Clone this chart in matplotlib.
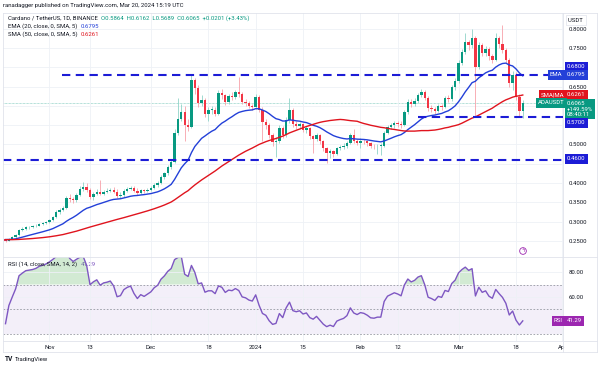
import matplotlib
matplotlib.use("Agg")
import matplotlib.pyplot as plt
import numpy as np
import pandas as pd

# ADA/USDT daily candles, Oct 19 2023 .. Mar 20 2024
closes = [0.250, 0.256, 0.260, 0.265, 0.278, 0.282, 0.286, 0.287, 0.288, 0.290,
          0.294, 0.296, 0.299, 0.304, 0.312, 0.325, 0.330, 0.335, 0.362, 0.358,
          0.356, 0.369, 0.385, 0.390, 0.383, 0.364, 0.372, 0.378, 0.372, 0.378,
          0.380, 0.383, 0.378, 0.366, 0.368, 0.380, 0.385, 0.388, 0.380, 0.374,
          0.381, 0.379, 0.383, 0.387, 0.395, 0.400, 0.415, 0.425, 0.442, 0.455,
          0.530, 0.566, 0.585, 0.550, 0.545, 0.667, 0.646, 0.607, 0.615, 0.580,
          0.590, 0.590, 0.580, 0.633, 0.628, 0.610, 0.625, 0.623, 0.636, 0.630,
          0.610, 0.607, 0.600, 0.597, 0.623, 0.590, 0.558, 0.550, 0.525, 0.507,
          0.510, 0.543, 0.525, 0.563, 0.590, 0.553, 0.548, 0.552, 0.538, 0.542,
          0.522, 0.515, 0.524, 0.508, 0.490, 0.478, 0.482, 0.476, 0.490, 0.494,
          0.497, 0.504, 0.525, 0.510, 0.505, 0.510, 0.508, 0.503, 0.496, 0.495,
          0.497, 0.497, 0.530, 0.545, 0.550, 0.555, 0.553, 0.550, 0.584, 0.610,
          0.605, 0.612, 0.628, 0.635, 0.620, 0.595, 0.592, 0.588, 0.600, 0.598,
          0.620, 0.618, 0.649, 0.665, 0.711, 0.740, 0.765, 0.758, 0.775, 0.700,
          0.757, 0.738, 0.748, 0.728, 0.720, 0.776, 0.760, 0.745, 0.720, 0.660,
          0.680, 0.623, 0.5864, 0.6065]
highs = [0.256, 0.258, 0.262, 0.268, 0.281, 0.287, 0.290, 0.290, 0.291, 0.293,
         0.297, 0.300, 0.302, 0.308, 0.316, 0.329, 0.335, 0.340, 0.367, 0.372,
         0.365, 0.374, 0.392, 0.402, 0.400, 0.388, 0.377, 0.385, 0.408, 0.383,
         0.386, 0.388, 0.389, 0.384, 0.377, 0.384, 0.390, 0.392, 0.392, 0.386,
         0.385, 0.384, 0.387, 0.392, 0.399, 0.405, 0.420, 0.430, 0.448, 0.462,
         0.540, 0.620, 0.606, 0.600, 0.565, 0.680, 0.672, 0.655, 0.628, 0.620,
         0.598, 0.600, 0.597, 0.640, 0.645, 0.632, 0.632, 0.635, 0.642, 0.675,
         0.636, 0.618, 0.612, 0.606, 0.630, 0.628, 0.596, 0.566, 0.556, 0.530,
         0.520, 0.550, 0.548, 0.570, 0.620, 0.594, 0.560, 0.558, 0.556, 0.548,
         0.545, 0.525, 0.530, 0.528, 0.512, 0.494, 0.488, 0.486, 0.494, 0.499,
         0.503, 0.510, 0.530, 0.540, 0.515, 0.516, 0.515, 0.512, 0.507, 0.501,
         0.502, 0.504, 0.535, 0.550, 0.556, 0.560, 0.562, 0.560, 0.590, 0.617,
         0.618, 0.620, 0.634, 0.645, 0.640, 0.625, 0.602, 0.598, 0.606, 0.605,
         0.626, 0.628, 0.655, 0.672, 0.718, 0.748, 0.790, 0.772, 0.800, 0.782,
         0.765, 0.762, 0.755, 0.752, 0.735, 0.790, 0.782, 0.810, 0.750, 0.725,
         0.690, 0.688, 0.630, 0.6162]
lows = [0.247, 0.249, 0.254, 0.258, 0.263, 0.275, 0.279, 0.282, 0.283, 0.285,
        0.288, 0.291, 0.293, 0.296, 0.301, 0.310, 0.321, 0.327, 0.333, 0.350,
        0.348, 0.352, 0.366, 0.380, 0.378, 0.358, 0.355, 0.368, 0.368, 0.368,
        0.374, 0.376, 0.375, 0.362, 0.362, 0.364, 0.377, 0.381, 0.376, 0.370,
        0.372, 0.374, 0.376, 0.380, 0.384, 0.391, 0.397, 0.410, 0.420, 0.437,
        0.452, 0.525, 0.560, 0.510, 0.535, 0.542, 0.630, 0.598, 0.600, 0.572,
        0.560, 0.578, 0.574, 0.576, 0.618, 0.602, 0.605, 0.614, 0.618, 0.624,
        0.604, 0.600, 0.594, 0.590, 0.592, 0.584, 0.510, 0.540, 0.518, 0.496,
        0.468, 0.505, 0.518, 0.520, 0.556, 0.545, 0.540, 0.540, 0.532, 0.530,
        0.515, 0.478, 0.508, 0.500, 0.484, 0.452, 0.466, 0.468, 0.472, 0.485,
        0.488, 0.492, 0.500, 0.505, 0.498, 0.490, 0.500, 0.497, 0.490, 0.488,
        0.476, 0.473, 0.494, 0.526, 0.540, 0.544, 0.546, 0.543, 0.547, 0.580,
        0.598, 0.600, 0.607, 0.622, 0.614, 0.588, 0.585, 0.580, 0.584, 0.590,
        0.594, 0.610, 0.612, 0.640, 0.660, 0.705, 0.735, 0.745, 0.750, 0.570,
        0.695, 0.728, 0.730, 0.720, 0.712, 0.716, 0.750, 0.738, 0.712, 0.648,
        0.640, 0.615, 0.575, 0.5689]
# closes before the visible window, only used to warm up EMA/SMA/RSI
warmup = [0.262, 0.260, 0.258, 0.257, 0.256, 0.256, 0.257, 0.256, 0.257, 0.255,
          0.254, 0.252, 0.249, 0.250, 0.251, 0.253, 0.254, 0.253, 0.252, 0.252,
          0.251, 0.250, 0.248, 0.247, 0.247, 0.246, 0.247, 0.246, 0.246, 0.250,
          0.253, 0.257, 0.261, 0.260, 0.259, 0.260, 0.258, 0.259, 0.258, 0.257,
          0.255, 0.254, 0.252, 0.251, 0.251, 0.252, 0.253, 0.255, 0.255, 0.254]

levels = [0.68, 0.57, 0.46]
level_start = [16.7, 122, -0.7]
price_ticks = [0.25, 0.30, 0.35, 0.40, 0.45, 0.50, 0.55, 0.60, 0.65, 0.70, 0.75, 0.80]
price_labels = ["0.2500", "0.3000", "0.3500", "0.4000", "", "0.5000", "", "",
                "0.6500", "", "0.7500", "0.8000"]
day_ticks = [13, 25, 43, 60, 74, 88, 105, 116, 134, 151, 164.6]
day_labels = ["Nov", "13", "Dec", "18", "2024", "15", "Feb", "12", "Mar", "18", "Ap"]

plt.rcParams["font.family"] = ["Roboto", "DejaVu Sans"]
FS = 4.3
UP, DOWN = "#089981", "#f23645"
LINE_BLUE = "#1c1cd6"
EMA_C, SMA_C, RSI_C = "#2340d8", "#e0141e", "#7e57c2"
TXT = "#131722"
GRID = "#eef1f6"

c = np.array(closes)
o = np.array([warmup[-1]] + closes[:-1])
x = np.arange(len(c))

s = pd.Series(warmup + closes)
n0 = len(warmup)
ema = s.ewm(span=20, adjust=False).mean().values[n0:]
sma = s.rolling(50).mean().values[n0:]
d = s.diff()
gain = d.clip(lower=0).ewm(alpha=1 / 14, adjust=False).mean()
loss = (-d.clip(upper=0)).ewm(alpha=1 / 14, adjust=False).mean()
rsi = (100 - 100 / (1 + gain / loss)).values[n0:]

W, H = 600, 368
fig = plt.figure(figsize=(6, 3.68), dpi=100, facecolor="white")
ax = fig.add_axes([3 / W, 1 - 257 / H, 560 / W, 244 / H])
rax = fig.add_axes([3 / W, 1 - 341 / H, 560 / W, 84 / H], sharex=ax)
ax.set_facecolor("none")
rax.set_facecolor("none")

# candles
up = c >= o
body_col = np.where(up, UP, DOWN)
wick_col = np.where(up, "#8fd3c8", "#f7a1a9")
ax.vlines(x, lows, highs, colors=wick_col, lw=0.6, zorder=2)
ax.bar(x, np.maximum(np.abs(c - o), 0.0015), bottom=np.minimum(o, c), width=0.7,
       color=body_col, lw=0, zorder=3)

ax.plot(x, ema, color=EMA_C, lw=1.0, zorder=4)
ax.plot(x, sma, color=SMA_C, lw=1.0, zorder=4)
for lv, st in zip(levels, level_start):
    ax.hlines(lv, st, 165, color=LINE_BLUE, lw=1.5, ls=(0, (4, 2.6)), zorder=5)
ax.axhline(c[-1], color=UP, lw=0.5, ls=(0, (1, 1)), alpha=0.6, zorder=1)

ax.set_xlim(-0.74, 164.9)
ax.set_ylim(0.2085, 0.8407)
ax.set_yticks(price_ticks)
ax.set_yticklabels(price_labels)
ax.yaxis.tick_right()
ax.set_xticks(day_ticks)
ax.tick_params(axis="x", labelbottom=False, length=0)
ax.tick_params(axis="y", length=0, pad=4, labelsize=FS, labelcolor=TXT)
ax.grid(True, color=GRID, lw=0.6)

# RSI panel
rax.axhspan(30, 70, color=RSI_C, alpha=0.09, lw=0)
for lv in (70, 50, 30):
    rax.axhline(lv, color="#9598a1", lw=0.6, ls=(0, (2, 2)))
rax.fill_between(x, 70, rsi, where=rsi > 70, interpolate=True, color="#4caf50", alpha=0.25, lw=0)
rax.fill_between(x, 30, rsi, where=rsi < 30, interpolate=True, color="#f23645", alpha=0.25, lw=0)
rax.plot(x, rsi, color=RSI_C, lw=1.0)
rax.set_ylim(24.4, 92.2)
rax.set_yticks([60, 80])
rax.set_yticklabels(["60.00", "80.00"])
rax.yaxis.tick_right()
rax.set_xticks(day_ticks)
rax.set_xticklabels(day_labels)
rax.tick_params(axis="x", length=0, pad=3, labelsize=FS, labelcolor=TXT)
rax.tick_params(axis="y", length=0, pad=4, labelsize=FS, labelcolor=TXT)
rax.grid(True, color=GRID, lw=0.6)

for a in (ax, rax):
    for sp in a.spines.values():
        sp.set_visible(False)


def fxy(px, py):
    return px / W, 1 - py / H


def fline(x0, y0, x1, y1):
    fig.add_artist(plt.Line2D([x0 / W, x1 / W], [1 - y0 / H, 1 - y1 / H],
                              transform=fig.transFigure, color="#e0e3eb", lw=0.6))


fline(3, 13, 597, 13)
fline(3, 352, 597, 352)
fline(3, 13, 3, 352)
fline(597, 13, 597, 352)
fline(563, 13, 563, 352)
fline(3, 257, 597, 257)
fline(3, 341, 597, 341)


def chain(prev, txt, color):
    # place a coloured value right after an existing text
    return ax.annotate(txt, xy=(1, 0), xycoords=prev, xytext=(2.5, 0),
                       textcoords="offset points", color=color, fontsize=FS,
                       va="bottom", ha="left", annotation_clip=False)


fig.text(*fxy(3, 6), "ranadagger published on TradingView.com, Mar 20, 2024 15:19 UTC",
         fontsize=FS, color=TXT, va="center")
t = fig.text(*fxy(8, 21), "Cardano / TetherUS, 1D, BINANCE", fontsize=FS, color=TXT, va="bottom")
chain(t, "O0.5864  H0.6162  L0.5689  C0.6065  +0.0201 (+3.43%)", UP)
t = fig.text(*fxy(8, 29), "EMA (20, close, 0, SMA, 5)", fontsize=FS, color=TXT, va="bottom")
chain(t, "0.6795", EMA_C)
t = fig.text(*fxy(8, 37), "SMA (50, close, 0, SMA, 5)", fontsize=FS, color=TXT, va="bottom")
chain(t, "0.6261", SMA_C)
t = fig.text(*fxy(8, 267), "RSI (14, close, SMA, 14, 2)", fontsize=FS, color=TXT, va="bottom")
chain(t, "41.29", RSI_C)


def tag(px, py, txt, fc, fg="white", ec="none", **kw):
    fig.text(*fxy(px, py), txt, fontsize=FS, color=fg, va="center", ha="left",
             bbox=dict(boxstyle="square,pad=0.35", fc=fc, ec=ec, lw=0.5), zorder=6, **kw)


tag(568, 20, "USDT ", "white", fg=TXT, ec="#e0e3eb")
tag(567, 67, "0.6800", LINE_BLUE)
tag(550, 75, "EMA", EMA_C)
tag(567, 75, "0.6795", EMA_C)
tag(541, 95, "SMA|MA", SMA_C)
tag(567, 95, "0.6261", SMA_C)
tag(538, 103, "ADAUSDT", UP)
tag(567, 109, "0.6065\n+149.59%\n08:40:11", UP, linespacing=1.15)
tag(567, 123, "0.5700", LINE_BLUE)
tag(567, 159, "0.4600", LINE_BLUE)
tag(554, 321, "RSI", "#9c27b0")
tag(567, 321, "41.29", "#9c27b0")
fig.text(*fxy(523, 251), "ϟ", fontsize=4, color="#9c27b0", ha="center", va="center",
         bbox=dict(boxstyle="circle,pad=0.15", fc="white", ec="#9c27b0", lw=0.6))

fig.text(*fxy(5, 359), "TV", fontsize=FS + 0.5, color=TXT, weight="bold", va="center")
fig.text(*fxy(15, 359), "TradingView", fontsize=FS, color=TXT, va="center")

fig.savefig("out.png", dpi=100)
